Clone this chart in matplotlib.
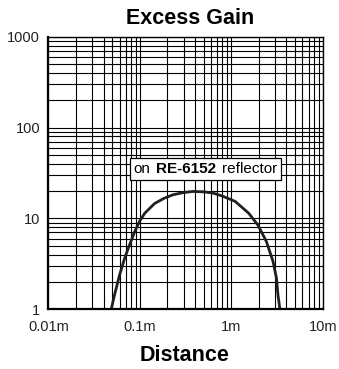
import matplotlib
matplotlib.use("Agg")
import matplotlib.pyplot as plt
from matplotlib.offsetbox import TextArea, HPacker, AnnotationBbox

plt.rcParams['font.family'] = ['Liberation Sans', 'DejaVu Sans']

# excess gain curve
distance = [0.0486, 0.0528, 0.060, 0.068, 0.077, 0.0875, 0.099, 0.113, 0.145,
            0.183, 0.23, 0.296, 0.38, 0.5, 0.63, 0.8, 1.1, 1.55, 1.96, 2.42,
            2.86, 3.12, 3.24, 3.4]
gain = [1.0, 1.44, 2.39, 3.62, 5.1, 7.1, 9.25, 11.4, 14.6,
        16.6, 18.2, 19.2, 19.8, 19.6, 19.0, 17.6, 15.4, 11.4, 8.4, 5.56,
        3.36, 2.19, 1.43, 1.0]

x_ticks = [0.01, 0.1, 1, 10]
x_labels = ["0.01m", "0.1m", "1m", "10m"]
y_ticks = [1, 10, 100, 1000]
y_labels = ["1", "10", "100", "1000"]

fig = plt.figure(figsize=(3.39, 3.69), dpi=100)
ax = fig.add_axes([0.143, 0.162, 0.809, 0.7385])
ax.set_xscale("log")
ax.set_yscale("log")
ax.set_xlim(0.01, 10)
ax.set_ylim(1, 1000)

ax.grid(True, which="both", color="black", lw=0.8)
ax.set_axisbelow(True)
ax.plot(distance, gain, color="#231f20", lw=2, solid_joinstyle="round")

ax.set_xticks(x_ticks)
ax.set_xticklabels(x_labels)
ax.set_yticks(y_ticks)
ax.set_yticklabels(y_labels)
ax.tick_params(which="both", length=0, labelsize=10.5, pad=6, labelcolor="#222222")
ax.tick_params(axis="x", pad=8)
for s in ax.spines.values():
    s.set_linewidth(1.0)
ax.spines["bottom"].set_linewidth(1.6)
ax.spines["left"].set_linewidth(1.6)

fig.text(0.560, 0.949, "Excess Gain", ha="center", va="center",
         fontsize=15.5, fontweight="bold")
fig.text(0.544, 0.036, "Distance", ha="center", va="center",
         fontsize=15.5, fontweight="bold")

# boxed label with bold part
parts = [TextArea("on", textprops=dict(fontsize=11)),
         TextArea("RE-6152", textprops=dict(fontsize=11, fontweight="bold")),
         TextArea("reflector", textprops=dict(fontsize=11))]
pack = HPacker(children=parts, align="baseline", pad=0, sep=4)
ab = AnnotationBbox(pack, (0.52, 35), xycoords="data", frameon=True,
                    pad=0.3, bboxprops=dict(edgecolor="black", lw=0.9, facecolor="white"))
ax.add_artist(ab)

fig.savefig("out.png", dpi=100)
